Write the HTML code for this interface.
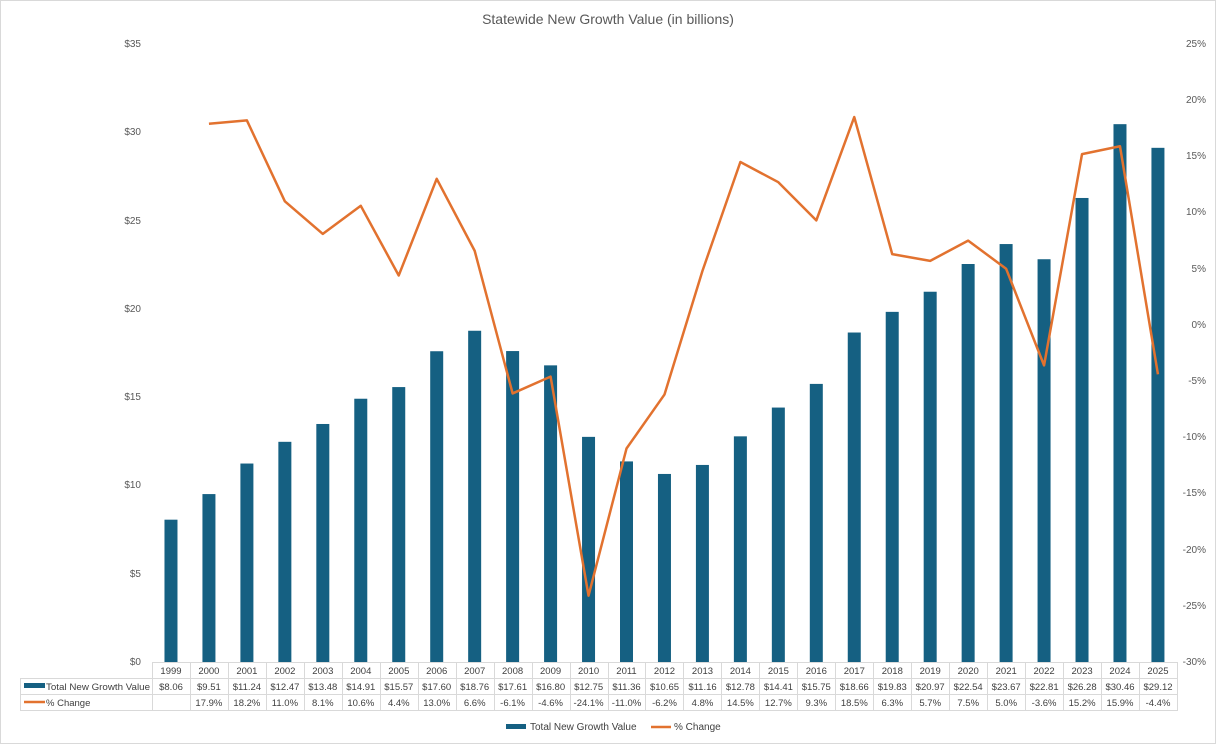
<!DOCTYPE html>
<html><head><meta charset="utf-8"><style>
html,body{margin:0;padding:0;background:#fff}
svg{display:block;font-family:"Liberation Sans",sans-serif}
</style></head><body>
<svg id="s" width="1216" height="744" viewBox="0 0 1216 744">
<rect x="0.5" y="0.5" width="1215" height="743" fill="#fff" stroke="#d9d9d9"/>
<text x="608" y="24" text-anchor="middle" font-size="14" fill="#595959">Statewide New Growth Value (in billions)</text>
<g font-size="10" fill="#595959" text-anchor="end">
<text x="141" y="47">$35</text><text x="141" y="135">$30</text><text x="141" y="224">$25</text><text x="141" y="312">$20</text><text x="141" y="400">$15</text><text x="141" y="488">$10</text><text x="141" y="577">$5</text><text x="141" y="665">$0</text>
</g>
<g font-size="10" fill="#595959" text-anchor="end">
<text x="1206" y="47">25%</text><text x="1206" y="103">20%</text><text x="1206" y="159">15%</text><text x="1206" y="215">10%</text><text x="1206" y="272">5%</text><text x="1206" y="328">0%</text><text x="1206" y="384">-5%</text><text x="1206" y="440">-10%</text><text x="1206" y="496">-15%</text><text x="1206" y="553">-20%</text><text x="1206" y="609">-25%</text><text x="1206" y="665">-30%</text>
</g>
<g id="bars" fill="#156082"></g>
<polyline id="ln" fill="none" stroke="#e2722f" stroke-width="2.5" stroke-linejoin="round"/>
<g id="grid" stroke="#d9d9d9" stroke-width="1"></g>
<rect x="24" y="683" width="21" height="5" fill="#156082"/>
<line x1="24" y1="702" x2="45" y2="702" stroke="#e2722f" stroke-width="2.5"/>
<g font-size="9.5" fill="#404040">
<text x="46" y="690" textLength="104" lengthAdjust="spacingAndGlyphs">Total New Growth Value</text>
<text x="46" y="706">% Change</text>
</g>
<g font-size="9.5" fill="#404040" text-anchor="middle">
<text x="171.0" y="674">1999</text><text x="208.9" y="674">2000</text><text x="246.9" y="674">2001</text><text x="284.9" y="674">2002</text><text x="322.8" y="674">2003</text><text x="360.8" y="674">2004</text><text x="398.8" y="674">2005</text><text x="436.7" y="674">2006</text><text x="474.7" y="674">2007</text><text x="512.6" y="674">2008</text><text x="550.6" y="674">2009</text><text x="588.6" y="674">2010</text><text x="626.5" y="674">2011</text><text x="664.5" y="674">2012</text><text x="702.5" y="674">2013</text><text x="740.4" y="674">2014</text><text x="778.4" y="674">2015</text><text x="816.3" y="674">2016</text><text x="854.3" y="674">2017</text><text x="892.3" y="674">2018</text><text x="930.2" y="674">2019</text><text x="968.2" y="674">2020</text><text x="1006.2" y="674">2021</text><text x="1044.1" y="674">2022</text><text x="1082.1" y="674">2023</text><text x="1120.0" y="674">2024</text><text x="1158.0" y="674">2025</text>
<text x="171.0" y="690">$8.06</text><text x="208.9" y="690">$9.51</text><text x="246.9" y="690">$11.24</text><text x="284.9" y="690">$12.47</text><text x="322.8" y="690">$13.48</text><text x="360.8" y="690">$14.91</text><text x="398.8" y="690">$15.57</text><text x="436.7" y="690">$17.60</text><text x="474.7" y="690">$18.76</text><text x="512.6" y="690">$17.61</text><text x="550.6" y="690">$16.80</text><text x="588.6" y="690">$12.75</text><text x="626.5" y="690">$11.36</text><text x="664.5" y="690">$10.65</text><text x="702.5" y="690">$11.16</text><text x="740.4" y="690">$12.78</text><text x="778.4" y="690">$14.41</text><text x="816.3" y="690">$15.75</text><text x="854.3" y="690">$18.66</text><text x="892.3" y="690">$19.83</text><text x="930.2" y="690">$20.97</text><text x="968.2" y="690">$22.54</text><text x="1006.2" y="690">$23.67</text><text x="1044.1" y="690">$22.81</text><text x="1082.1" y="690">$26.28</text><text x="1120.0" y="690">$30.46</text><text x="1158.0" y="690">$29.12</text>
<text x="208.9" y="706">17.9%</text><text x="246.9" y="706">18.2%</text><text x="284.9" y="706">11.0%</text><text x="322.8" y="706">8.1%</text><text x="360.8" y="706">10.6%</text><text x="398.8" y="706">4.4%</text><text x="436.7" y="706">13.0%</text><text x="474.7" y="706">6.6%</text><text x="512.6" y="706">-6.1%</text><text x="550.6" y="706">-4.6%</text><text x="588.6" y="706">-24.1%</text><text x="626.5" y="706">-11.0%</text><text x="664.5" y="706">-6.2%</text><text x="702.5" y="706">4.8%</text><text x="740.4" y="706">14.5%</text><text x="778.4" y="706">12.7%</text><text x="816.3" y="706">9.3%</text><text x="854.3" y="706">18.5%</text><text x="892.3" y="706">6.3%</text><text x="930.2" y="706">5.7%</text><text x="968.2" y="706">7.5%</text><text x="1006.2" y="706">5.0%</text><text x="1044.1" y="706">-3.6%</text><text x="1082.1" y="706">15.2%</text><text x="1120.0" y="706">15.9%</text><text x="1158.0" y="706">-4.4%</text>
</g>
<rect x="506" y="724" width="20" height="5" fill="#156082"/>
<line x1="651" y1="727" x2="671" y2="727" stroke="#e2722f" stroke-width="2.5"/>
<g font-size="10" fill="#404040"><text x="530" y="730">Total New Growth Value</text><text x="674" y="730">% Change</text></g>
</svg>
<script>
var v=[8.06,9.51,11.24,12.47,13.48,14.91,15.57,17.60,18.76,17.61,16.80,12.75,11.36,10.65,11.16,12.78,14.41,15.75,18.66,19.83,20.97,22.54,23.67,22.81,26.28,30.46,29.12];
var p=[null,17.9,18.2,11.0,8.1,10.6,4.4,13.0,6.6,-6.1,-4.6,-24.1,-11.0,-6.2,4.8,14.5,12.7,9.3,18.5,6.3,5.7,7.5,5.0,-3.6,15.2,15.9,-4.4];
var NS="http://www.w3.org/2000/svg",w=37.96,x0=152,b=document.getElementById('bars'),g=document.getElementById('grid'),pts=[];
function el(t,a,par){var e=document.createElementNS(NS,t);for(var k in a)e.setAttribute(k,a[k]);par.appendChild(e);}
for(var i=0;i<27;i++){var cx=x0+w*(i+.5),h=v[i]*618/35;
el('rect',{x:cx-6.5,y:662-h,width:13,height:h},b);
if(p[i]!==null)pts.push(cx+','+(44+(25-p[i])*618/55));}
document.getElementById('ln').setAttribute('points',pts.join(' '));
el('line',{x1:x0,y1:662.5,x2:1177,y2:662.5},g);
el('line',{x1:20,y1:678.5,x2:1177,y2:678.5},g);
el('line',{x1:20,y1:694.5,x2:1177,y2:694.5},g);
el('line',{x1:20,y1:710.5,x2:1177,y2:710.5},g);
el('line',{x1:20.5,y1:678,x2:20.5,y2:711},g);
for(var i=0;i<=27;i++){var x=Math.round(x0+w*i)+.5;el('line',{x1:x,y1:662,x2:x,y2:711},g);}
</script>
</body></html>
